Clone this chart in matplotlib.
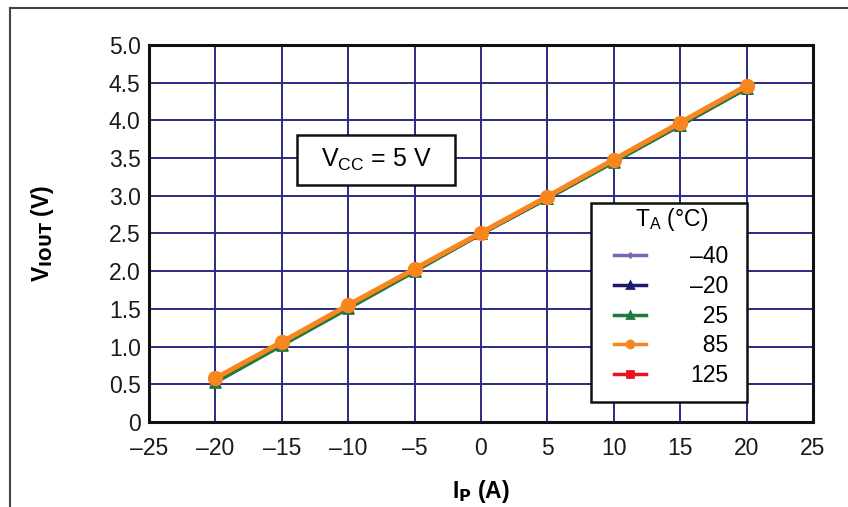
import matplotlib.pyplot as plt
from matplotlib.lines import Line2D
from matplotlib.patches import Rectangle

plt.rcParams['font.family'] = ['Liberation Sans', 'DejaVu Sans']

# output current (A)
ip = [-20, -15, -10, -5, 0, 5, 10, 15, 20]

# VIOUT (V) per ambient temperature
v_m40 = [0.53, 1.02, 1.51, 2.00, 2.49, 2.97, 3.45, 3.94, 4.43]
v_m20 = [0.53, 1.02, 1.51, 2.00, 2.49, 2.96, 3.45, 3.93, 4.42]
v_25 = [0.52, 1.01, 1.50, 1.99, 2.49, 2.96, 3.44, 3.93, 4.42]
v_125 = [0.57, 1.05, 1.54, 2.02, 2.50, 2.98, 3.47, 3.96, 4.45]
v_85 = [0.58, 1.06, 1.55, 2.03, 2.51, 2.99, 3.48, 3.97, 4.46]

temps = ['\u201340', '\u201320', '\u200725', '\u200785', '125']
colors = ['#7d62b5', '#1c1c6b', '#1f7a3c', '#f7861f', '#e8131c']
markers = ['+', '^', '^', 'o', 's']

x_ticks = list(range(-25, 30, 5))
y_ticks = [i * 0.5 for i in range(11)]
y_labels = ['0'] + ['%.1f' % v for v in y_ticks[1:]]

FS = 16.5

fig = plt.figure(figsize=(8.48, 5.07), dpi=100)
ax = fig.add_axes([0.1757, 0.1677, 0.783, 0.7435])

series = [v_m40, v_m20, v_25, v_125, v_85]
order = [0, 1, 2, 4, 3]
for idx, vals in zip(order, series):
    lw = 3.6 if idx == 3 else 2.2
    ms = 9 if idx == 3 else 6
    ax.plot(ip, vals, color=colors[idx], lw=lw, marker=markers[idx],
            ms=ms, mew=2, zorder=3 + (idx == 3))

ax.set_xlim(-25, 25)
ax.set_ylim(0, 5)
ax.set_xticks(x_ticks)
ax.set_xticklabels([str(t).replace('-', '\u2013') for t in x_ticks])
ax.set_yticks(y_ticks)
ax.set_yticklabels(y_labels)
ax.tick_params(length=0, labelsize=FS, colors='#1a1a1a')
ax.tick_params(axis='x', pad=11)
ax.tick_params(axis='y', pad=6)
ax.grid(True, color='#2a2a85', lw=1.4)
ax.set_axisbelow(True)
for s in ax.spines.values():
    s.set_linewidth(2.2)
    s.set_color('#111111')

ax.set_xlabel('I$_\\mathbf{P}$ (A)', fontsize=FS, fontweight='bold', labelpad=13)
ax.set_ylabel('V$_\\mathbf{IOUT}$ (V)', fontsize=FS, fontweight='bold', labelpad=38)

# supply note box
ax.add_patch(Rectangle((-13.86, 3.14), 11.9, 0.67, fc='white', ec='#111111',
                       lw=1.8, zorder=5))
ax.text(-7.9, 3.47, 'V$_\\mathregular{CC}$ = 5 V', fontsize=18, ha='center', va='center',
        zorder=6)

# legend frame + legend
ax.add_patch(Rectangle((8.28, 0.265), 11.75, 2.635, fc='white', ec='#111111',
                       lw=1.8, zorder=5))
handles = [Line2D([], [], color=colors[i], lw=2.5, marker=markers[i], ms=5, mew=2)
           for i in range(5)]
leg = ax.legend(handles, temps, title='T$_\\mathregular{A}$ (\u00b0C)', loc='upper left',
                bbox_to_anchor=(0.7003, 0.573), fontsize=FS, title_fontsize=FS,
                frameon=False, handlelength=1.4, handletextpad=1.92,
                labelspacing=0.29, borderpad=0, borderaxespad=0)
leg._legend_box.sep = 9
leg.set_zorder(6)

# outer frame of the page
fig.add_artist(Line2D([10 / 848, 10 / 848], [0, 1 - 8 / 507], color='#444444', lw=1.5))
fig.add_artist(Line2D([10 / 848, 1], [1 - 8 / 507, 1 - 8 / 507], color='#444444', lw=1.5))

fig.savefig('out.png', dpi=100)
